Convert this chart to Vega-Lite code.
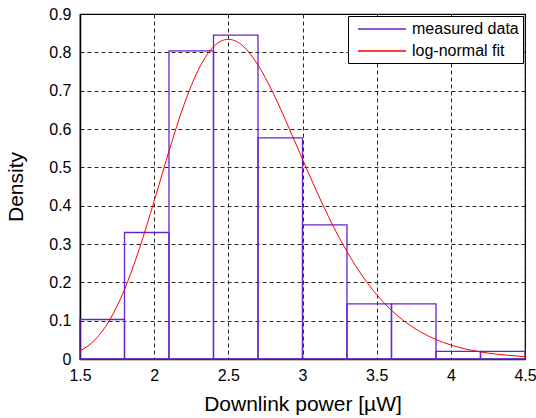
{
  "$schema": "https://vega.github.io/schema/vega-lite/v6.json",
  "width": 445,
  "height": 345,
  "autosize": {"type": "none"},
  "padding": {"left": 80, "top": 14, "right": 11, "bottom": 59},
  "background": "white",
  "config": {
    "font": "Liberation Sans",
    "view": {"stroke": "black", "strokeWidth": 1.2},
    "axis": {
      "domainColor": "black",
      "domainWidth": 1.5,
      "grid": true,
      "gridColor": "black",
      "gridDash": [4, 3],
      "gridOpacity": 0.85,
      "gridWidth": 1,
      "ticks": false,
      "labelOverlap": false,
      "labelFlush": false,
      "labelColor": "black",
      "labelFont": "Liberation Sans",
      "labelFontSize": 16,
      "titleFont": "Liberation Sans",
      "titleFontSize": 21,
      "titleFontWeight": "normal",
      "titleColor": "black"
    },
    "legend": {
      "orient": "none",
      "legendX": 268,
      "legendY": 2,
      "strokeColor": "black",
      "fillColor": "white",
      "padding": 4,
      "symbolType": "M-0.375,0H5.625",
      "symbolSize": 256,
      "symbolStrokeWidth": 1.5,
      "labelFont": "Liberation Sans",
      "labelFontSize": 16,
      "labelColor": "black",
      "labelOffset": 42,
      "rowPadding": 5
    }
  },
  "datasets": {
    "bins": [
      {"start": 1.5, "end": 1.8, "density": 0.103, "series": "measured data"},
      {"start": 1.8, "end": 2.1, "density": 0.33, "series": "measured data"},
      {"start": 2.1, "end": 2.4, "density": 0.804, "series": "measured data"},
      {"start": 2.4, "end": 2.7, "density": 0.845, "series": "measured data"},
      {"start": 2.7, "end": 3.0, "density": 0.577, "series": "measured data"},
      {"start": 3.0, "end": 3.3, "density": 0.35, "series": "measured data"},
      {"start": 3.3, "end": 3.6, "density": 0.144, "series": "measured data"},
      {"start": 3.6, "end": 3.9, "density": 0.144, "series": "measured data"},
      {"start": 3.9, "end": 4.2, "density": 0.02, "series": "measured data"},
      {"start": 4.2, "end": 4.5, "density": 0.02, "series": "measured data"}
    ],
    "fit": [
      {"x": 1.5, "y": 0.0208, "series": "log-normal fit"},
      {"x": 1.6, "y": 0.0498, "series": "log-normal fit"},
      {"x": 1.7, "y": 0.1017, "series": "log-normal fit"},
      {"x": 1.8, "y": 0.1813, "series": "log-normal fit"},
      {"x": 1.9, "y": 0.2876, "series": "log-normal fit"},
      {"x": 2.0, "y": 0.4123, "series": "log-normal fit"},
      {"x": 2.1, "y": 0.5424, "series": "log-normal fit"},
      {"x": 2.2, "y": 0.6621, "series": "log-normal fit"},
      {"x": 2.3, "y": 0.7559, "series": "log-normal fit"},
      {"x": 2.4, "y": 0.8146, "series": "log-normal fit"},
      {"x": 2.5, "y": 0.834, "series": "log-normal fit"},
      {"x": 2.6, "y": 0.816, "series": "log-normal fit"},
      {"x": 2.7, "y": 0.7668, "series": "log-normal fit"},
      {"x": 2.8, "y": 0.6954, "series": "log-normal fit"},
      {"x": 2.9, "y": 0.6106, "series": "log-normal fit"},
      {"x": 3.0, "y": 0.521, "series": "log-normal fit"},
      {"x": 3.1, "y": 0.4333, "series": "log-normal fit"},
      {"x": 3.2, "y": 0.352, "series": "log-normal fit"},
      {"x": 3.3, "y": 0.2802, "series": "log-normal fit"},
      {"x": 3.4, "y": 0.2188, "series": "log-normal fit"},
      {"x": 3.5, "y": 0.168, "series": "log-normal fit"},
      {"x": 3.6, "y": 0.1271, "series": "log-normal fit"},
      {"x": 3.7, "y": 0.0948, "series": "log-normal fit"},
      {"x": 3.8, "y": 0.0698, "series": "log-normal fit"},
      {"x": 3.9, "y": 0.0508, "series": "log-normal fit"},
      {"x": 4.0, "y": 0.0366, "series": "log-normal fit"},
      {"x": 4.1, "y": 0.0261, "series": "log-normal fit"},
      {"x": 4.2, "y": 0.0185, "series": "log-normal fit"},
      {"x": 4.3, "y": 0.013, "series": "log-normal fit"},
      {"x": 4.4, "y": 0.0091, "series": "log-normal fit"},
      {"x": 4.5, "y": 0.0063, "series": "log-normal fit"}
    ]
  },
  "encoding": {
    "x": {
      "type": "quantitative",
      "scale": {"domain": [1.5, 4.5], "nice": false, "zero": false},
      "axis": {
        "values": [1.5, 2, 2.5, 3, 3.5, 4, 4.5],
        "labelExpr": "datum.value + ''",
        "labelPadding": 8,
        "title": "Downlink power [µW]",
        "titlePadding": 10
      }
    },
    "y": {
      "type": "quantitative",
      "scale": {"domain": [0, 0.9], "nice": false},
      "axis": {
        "values": [0, 0.1, 0.2, 0.3, 0.4, 0.5, 0.6, 0.7, 0.8, 0.9],
        "labelExpr": "datum.value + ''",
        "labelPadding": 9,
        "title": "Density",
        "titlePadding": 22
      }
    },
    "stroke": {
      "field": "series",
      "type": "nominal",
      "scale": {"domain": ["measured data", "log-normal fit"], "range": ["#6624cc", "#ff0000"]},
      "legend": {"title": null}
    }
  },
  "layer": [
    {
      "data": {"name": "bins"},
      "mark": {"type": "rect", "fill": null, "fillOpacity": 0, "strokeWidth": 1.3},
      "encoding": {
        "x": {"field": "start", "type": "quantitative"},
        "x2": {"field": "end"},
        "y": {"field": "density", "type": "quantitative"},
        "y2": {"datum": 0}
      }
    },
    {
      "data": {"name": "fit"},
      "mark": {"type": "line", "strokeWidth": 1, "interpolate": "monotone"},
      "encoding": {
        "x": {"field": "x", "type": "quantitative"},
        "y": {"field": "y", "type": "quantitative"}
      }
    }
  ]
}
